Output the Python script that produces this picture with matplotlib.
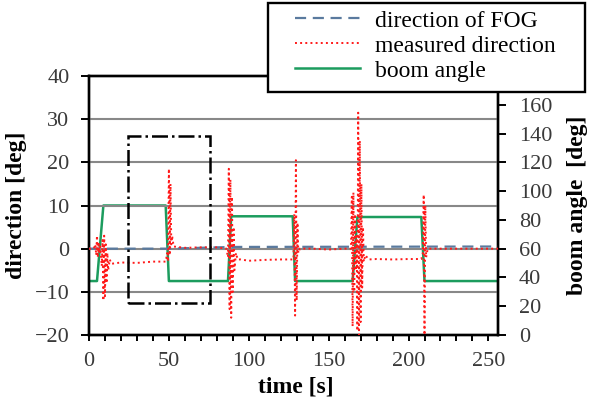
import numpy as np
import matplotlib.pyplot as plt
from matplotlib.patches import Rectangle

plt.rcParams['font.family'] = ['Liberation Serif', 'DejaVu Serif']

# measured direction (red dotted), left axis [deg]
meas_t = [0, 3, 4, 4.5, 5, 5.5, 6, 6.5, 7, 8, 8.5, 9, 9.5, 10, 10.5, 11, 11.5, 12, 13, 14,
          20, 30, 40, 48, 49, 49.5, 50, 50.5, 51, 51.5, 52, 53, 60, 70, 80,
          86, 87, 87.5, 88, 88.5, 89, 89.5, 90, 90.5, 91, 92, 93, 95, 100, 110, 120,
          128, 128.5, 129, 129.5, 130, 130.5, 131, 132, 140, 150, 160,
          164, 164.5, 165, 165.5, 166, 166.5, 167, 167.5, 168, 168.5, 169, 169.5, 170,
          170.5, 171, 171.5, 172, 173, 175, 180, 190, 200,
          208, 209, 209.5, 210, 210.5, 211, 212, 220, 240, 256]
meas_v = [0, 0, 1, -1.5, 3, -2, 1.5, -1, 0.5, -4, 2, -12, 3, -11, 1, -8, -1, -5, -2.5, -3.5,
          -3.2, -3.3, -3.0, -3.0, -1, -3, 18.5, -1.5, 15, 1, 3, 0.5, 0.2, 0.3, 0.3,
          0, -2, 18.5, -14, 16, -16, 12, -10, 5, -5, -1, -2.5, -2.5, -2.8, -2.6, -2.5,
          -2.5, 8, -15.5, 20.5, -12, 6, -1, 0, 0, -0.2, 0,
          0, 12, -18, 13, -10, 8, -5, 3, -19, 31.5, -20, 25, -17,
          15, -9, 5, -3, -1.5, -2.5, -2.4, -2.5, -2.4,
          -2.4, -1, 12.5, -20, 10, -2, 0, 0, 0, 0]

# direction of FOG (dashed), left axis [deg]
fog_t = [0, 50, 90, 256]
fog_v = [0, 0, 0.4, 0.5]

# boom angle (green), right axis [deg]
boom_t = [0, 5, 9, 48, 50, 87, 89, 127.5, 129, 165, 168, 208, 210, 256]
boom_v = [37.5, 37.5, 90, 90, 37.5, 37.5, 82.5, 82.5, 37.5, 37.5, 82, 82, 37.5, 37.5]

# dash-dot box (time, direction)
box_t = [24.5, 75.5]
box_v = [-12.6, 26]

W, H = 591, 400
fig = plt.figure(figsize=(W / 100, H / 100), dpi=100)
ax = fig.add_axes([89 / W, 1 - 335 / H, 409 / W, 259 / H])
ax2 = ax.twinx()

for y in range(-10, 40, 10):
    ax.axhline(y, color='#888888', lw=1.5, zorder=1)

l1, = ax.plot(fog_t, fog_v, ls=(0, (5, 3)), color='#5a7a9e', lw=1.6, zorder=3,
              label='direction of FOG')
l2, = ax.plot(meas_t, meas_v, ls=':', color='#ff1a1a', lw=1.4, zorder=4,
              label='measured direction')
l3, = ax2.plot(boom_t, boom_v, color='#1c9c5e', lw=1.8, zorder=2, label='boom angle')

ax.add_patch(Rectangle((box_t[0], box_v[0]), box_t[1] - box_t[0], box_v[1] - box_v[0],
                       fill=False, ls='-.', lw=1.8, ec='black', zorder=5))

ax.set_xlim(0, 256)
ax.set_ylim(-20, 40)
ax2.set_ylim(0, 180)
ax.set_xticks(range(0, 251, 50))
ax.set_xticks(range(0, 256, 10), minor=True)
ax.set_yticks(range(-20, 41, 10))
ax2.set_yticks(range(0, 161, 20))

for a in (ax, ax2):
    for s in a.spines.values():
        s.set_linewidth(1.7)
    a.tick_params(which='both', direction='out', width=1.4, length=5,
                  labelsize=16, labelcolor='#3a3a3a')
ax.tick_params(axis='x', which='both', length=4.5, pad=8)
ax.tick_params(axis='y', length=6, pad=8)
ax2.tick_params(axis='y', length=6, pad=9)

ax.set_xlabel('time [s]', fontsize=17, fontweight='bold')
ax.set_ylabel('direction [deg]', fontsize=17, fontweight='bold')
ax2.set_ylabel('boom angle  [deg]', fontsize=17, fontweight='bold')
ax.xaxis.set_label_coords(0.505, -0.162)
ax.yaxis.set_label_coords(-0.152, 0.5)
ax2.yaxis.set_label_coords(1.168, 0.5)

ax.set_zorder(ax2.get_zorder() + 1)
ax.patch.set_visible(False)

# legend frame drawn separately so it can sit above the axes top
frame = Rectangle((268 / W, 1 - 92 / H), 317 / W, 89 / H, transform=fig.transFigure,
                  facecolor='white', edgecolor='black', lw=1.7, zorder=4)
fig.add_artist(frame)
leg = fig.legend(handles=[l1, l2, l3], loc='upper left',
                 bbox_to_anchor=(295 / W, 1 - 10 / H), fontsize=17, frameon=False,
                 handlelength=2.75, borderpad=0, borderaxespad=0,
                 labelspacing=0.15, handletextpad=0.63)
leg.set_zorder(5)

fig.savefig('out.png', dpi=100)
